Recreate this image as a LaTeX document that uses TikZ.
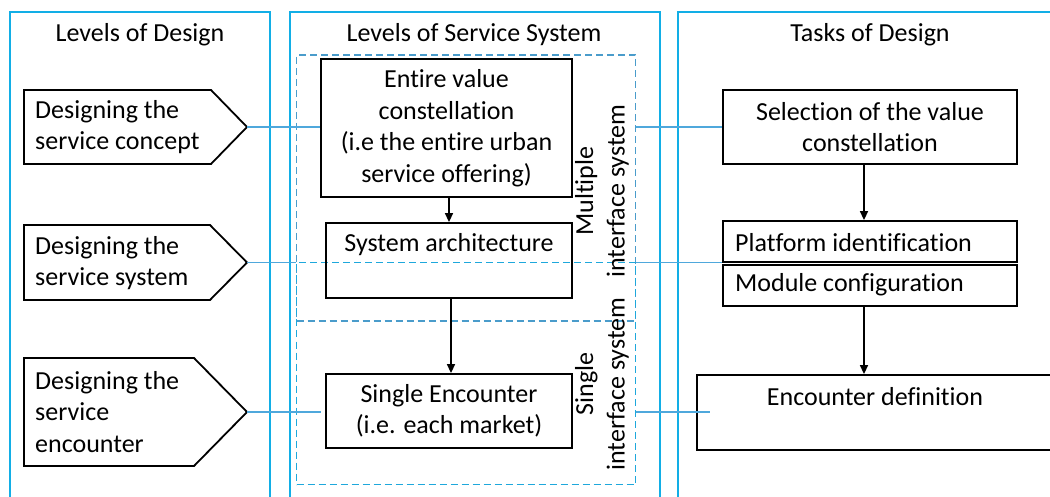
\documentclass[tikz,border=0pt]{standalone}
\usepackage{fontspec}
\setmainfont{Carlito}[Ligatures=NoCommon]
\usetikzlibrary{arrows.meta}
\definecolor{colc}{HTML}{12AEE6}
\definecolor{dashA}{HTML}{4A9CCB}
\definecolor{dashB}{HTML}{1EA8DC}
\definecolor{conn}{HTML}{4FA8DC}
\begin{document}
\begin{tikzpicture}[x=1pt,y=-1pt,
  every node/.style={font=\fontsize{26}{31.5}\selectfont, inner sep=0pt},
  column/.style={draw=colc, line width=2pt},
  box/.style={draw=black, line width=1.8pt, rectangle, minimum width=#1},
  dbox/.style={rectangle, line width=1.7pt, dash pattern=on 7pt off 4pt},
  pent/.style={draw=black, line width=1.8pt},
  conline/.style={draw=conn, line width=1.2pt},
  flow/.style={draw=black, line width=1.5pt, -{Triangle[length=9pt,width=8pt]}},
  txt/.style={align=center}
]
\useasboundingbox (0,0) rectangle (1050,497);
\clip (0,0) rectangle (1050,497);
\fill[white] (0,0) rectangle (1050,497);

% columns
\draw[column] (10,510) -- (10,12) -- (270,12) -- (270,510);
\draw[column] (290,510) -- (290,12) -- (660,12) -- (660,510);
\draw[column] (678,510) -- (678,12) -- (1070,12) -- (1070,510);

\node (t1) at (140,35) {Levels of Design};
\node (t2) at (474,35) {Levels of Service System};
\node (t3) at (870,35) {Tasks of Design};

% pentagons
\draw[pent] (24,90) -- (211,90) -- (247,127) coordinate (p1) -- (211,164) -- (24,164) -- cycle;
\draw[pent] (24,225) -- (210,225) -- (247,262.5) coordinate (p2) -- (210,300) -- (24,300) -- cycle;
\draw[pent] (24,358) -- (194,358) -- (247,412) coordinate (p3) -- (194,466) -- (24,466) -- cycle;
\node[anchor=west, align=left] (pt1) at (35,127) {Designing the\\service concept};
\node[anchor=west, align=left] (pt2) at (35,263) {Designing the\\service system};
\node[anchor=west, align=left] (pt3) at (35,412) {Designing the\\service\\encounter};

% dashed boxes
\node[dbox, draw=dashA, minimum width=339pt, minimum height=266pt] (multi) at (466,188) {};
\node[dbox, draw=dashB, minimum width=339pt, minimum height=222pt] (single) at (466,373.5) {};

% middle boxes
\node[box=251pt, minimum height=138pt, txt] (ev) at (446.5,128) {Entire value\\constellation\\(i.e the entire urban\\service offering)};
\node[box=246pt, minimum height=75pt] (sa) at (449,260.5) {};
\node (satext) at (449,245) {System architecture};
\node[box=246pt, minimum height=74pt, txt] (se) at (449,411) {Single Encounter\\(i.e. each market)};

% rotated labels
\node[rotate=90, txt] (ml) at (602,191) {Multiple\\interface system};
\node[rotate=90, txt] (sl) at (602,384) {Single\\interface system};

% right boxes
\node[box=294pt, minimum height=74pt, txt] (sel) at (870,127) {Selection of the value\\constellation};
\node[box=294pt, minimum height=41pt] (plat) at (870,241.5) {};
\node[anchor=west] (plattext) at (735,243) {Platform identification};
\node[box=294pt, minimum height=41pt] (mod) at (870,285.5) {};
\node[anchor=west] (modtext) at (735,285) {Module configuration};
\node[box=373pt, minimum height=75pt] (enc) at (883.5,412.5) {};
\node (enctext) at (875,397) {Encounter definition};

% connectors (thin)
\draw[conline] (p1) -- (p1 -| ev.west);
\draw[conline] (multi.east |- sel.west) -- (sel.west);
\draw[conline] (p2) -- (p2 -| single.west);
\draw[conline] (p2 -| single.east) -- (p2 -| plat.west);
\draw[conline] (p3) -- ([xshift=-4pt]p3 -| se.west);
\draw[conline] (p3 -| single.east) -- ([xshift=14pt]p3 -| enc.west);

% flow arrows
\draw[flow] (ev.south -| 449,0) -- (sa.north -| 449,0);
\draw[flow] (sa.south -| 451,0) -- (se.north -| 451,0);
\draw[flow] (sel.south -| 864,0) -- (plat.north -| 864,0);
\draw[flow] (mod.south -| 864,0) -- (enc.north -| 864,0);
\end{tikzpicture}
\end{document}
